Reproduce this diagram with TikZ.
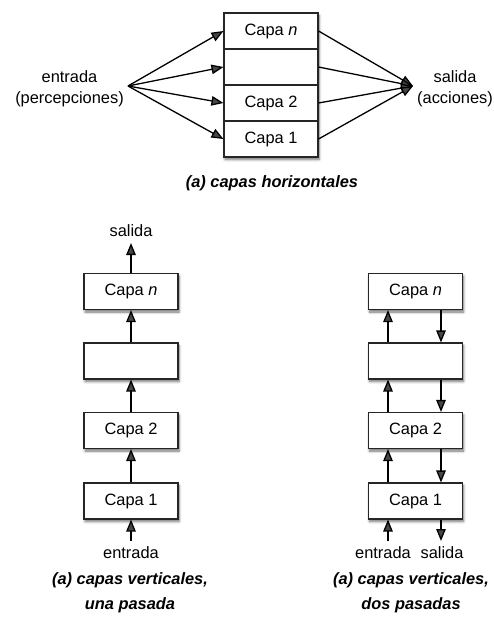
\documentclass[tikz,border=0pt]{standalone}
\usepackage{fontspec}
\setmainfont{Liberation Sans}
\usetikzlibrary{arrows.meta,shadows,shadows.blur}
\begin{document}
\begin{tikzpicture}[x=1pt,y=-1pt,
  font=\fontsize{16.4}{21}\selectfont,
  boxshadow/.style={blur shadow={shadow xshift=1pt, shadow yshift=-2.5pt, shadow blur radius=2.5pt, shadow blur steps=6, shadow opacity=55}},
  row/.style={draw=black!85, line width=1.1pt, fill=white, minimum width=94pt, minimum height=36pt, inner sep=0pt},
  layerbox/.style={row, boxshadow},
  flow/.style={line width=1.3pt, -{Triangle[length=12pt,width=9.5pt]}},
  lbl/.style={align=center, inner sep=0pt},
  figcap/.style={font=\fontsize{16.4}{25}\selectfont\bfseries\itshape, align=center, inner sep=0pt}
]
\useasboundingbox (0,0) rectangle (494,624);

% ---- horizontal layering ----
\fill[white, boxshadow] (224,13) rectangle (318,157);
\node[row] (hn) at (271,31)  {Capa \textit{n}};
\node[row] (hm) at (271,67)  {};
\node[row] (h2) at (271,103) {Capa 2};
\node[row] (h1) at (271,139) {Capa 1};

\node[lbl] (hin)  at (69.5,89) {entrada\\(percepciones)};
\node[lbl] (hout) at (455,89)  {salida\\(acciones)};
\coordinate (src) at (128,86);
\coordinate (dst) at (413,86);

\foreach \r in {hn,hm,h2,h1} {
  \draw[flow] (src) -- (\r.west);
  \draw[flow] (\r.east) -- (dst);
}
\node[figcap] (capa) at (272,183) {(a) capas horizontales};

% ---- vertical layering, one pass ----
\node[layerbox] (Ln) at (131,291.5) {Capa \textit{n}};
\node[layerbox] (Lm) at (131,361)   {};
\node[layerbox] (L2) at (131,430.5) {Capa 2};
\node[layerbox] (L1) at (131,501)   {Capa 1};

\coordinate (lout) at (131,243);
\coordinate (lin)  at (131,541);
\node[lbl] (lsal) at (131,231) {salida};
\node[lbl] (lent) at (131,553) {entrada};

\draw[flow] (lin) -- (L1.south);
\draw[flow] (L1.north) -- (L2.south);
\draw[flow] (L2.north) -- (Lm.south);
\draw[flow] (Lm.north) -- (Ln.south);
\draw[flow] (Ln.north) -- (lout);

\node[figcap] (capb) at (130,593) {(a) capas verticales,\\una pasada};

% ---- vertical layering, two passes ----
\node[layerbox] (Rn) at (415.5,291.5) {Capa \textit{n}};
\node[layerbox] (Rm) at (415.5,361)   {};
\node[layerbox] (R2) at (415.5,430.5) {Capa 2};
\node[layerbox] (R1) at (415.5,501)   {Capa 1};

\coordinate (upx) at (388,0);
\coordinate (dnx) at (441,0);
\coordinate (rin)  at (388,541);
\coordinate (rout) at (441,541);
\node[lbl] (rent) at (383,553) {entrada};
\node[lbl] (rsal) at (442,553) {salida};

\draw[flow] (rin) -- (R1.south -| upx);
\draw[flow] (R1.north -| upx) -- (R2.south -| upx);
\draw[flow] (R2.north -| upx) -- (Rm.south -| upx);
\draw[flow] (Rm.north -| upx) -- (Rn.south -| upx);

\draw[flow] (Rn.south -| dnx) -- (Rm.north -| dnx);
\draw[flow] (Rm.south -| dnx) -- (R2.north -| dnx);
\draw[flow] (R2.south -| dnx) -- (R1.north -| dnx);
\draw[flow] (R1.south -| dnx) -- (rout);

\node[figcap] (capc) at (411,593) {(a) capas verticales,\\dos pasadas};
\end{tikzpicture}
\end{document}
